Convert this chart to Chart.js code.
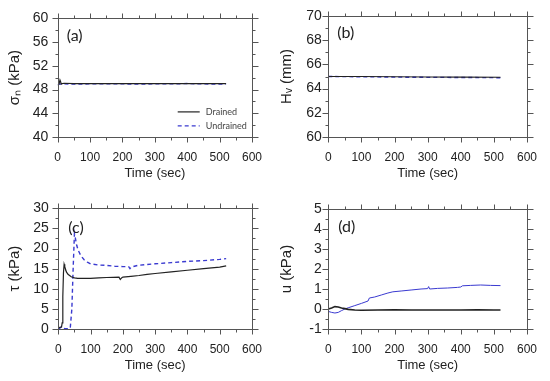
<!DOCTYPE html>
<html>
<head>
<meta charset="utf-8">
<script src="https://cdn.jsdelivr.net/npm/chart.js@4"></script>
<style>
  body { margin: 0; background: #fff; }
  #wrap { position: relative; width: 550px; height: 381px; overflow: hidden; }
  canvas { position: absolute; }
</style>
</head>
<body>
<div id="wrap">
  <canvas id="pa" width="275" height="190" style="left:0;top:0"></canvas>
  <canvas id="pb" width="275" height="190" style="left:275px;top:0"></canvas>
  <canvas id="pc" width="275" height="191" style="left:0;top:190px"></canvas>
  <canvas id="pd" width="275" height="191" style="left:275px;top:190px"></canvas>
</div>
<script>
// (a) normal stress
const aDrainedT = [0, 4, 7, 9, 11, 14, 20, 50, 100, 150, 200, 250, 300, 350, 400, 450, 500, 520];
const aDrainedV = [48.7, 48.9, 49.6, 49.3, 48.9, 49.0, 49.05, 49.0, 49.0, 49.0, 49.0, 49.0, 49.0, 49.0, 49.0, 49.0, 49.0, 49.0];
const aUndrainedT = [0, 5, 10, 20, 50, 100, 150, 200, 250, 300, 350, 400, 450, 500, 520];
const aUndrainedV = [48.8, 48.95, 48.9, 48.95, 48.9, 48.95, 48.95, 48.95, 48.9, 48.95, 48.95, 49.0, 48.95, 48.9, 48.9];

// (b) specimen height
const bDrainedT = [0, 100, 200, 300, 400, 520];
const bDrainedV = [65.0, 65.0, 64.98, 64.96, 64.95, 64.94];
const bUndrainedT = [0, 100, 200, 300, 400, 520];
const bUndrainedV = [65.0, 64.98, 64.95, 64.93, 64.92, 64.9];

// (c) shear stress
const cDrainedT = [0, 5, 10, 12, 14, 16, 18, 20, 25, 30, 40, 50, 60, 80, 100, 125, 150, 188, 192, 196, 200, 225, 250, 275, 300, 350, 400, 450, 500, 520];
const cDrainedV = [0.3, 0.4, 0.5, 1.5, 8, 14, 16.1, 15.5, 14.2, 13.6, 13.0, 12.7, 12.6, 12.6, 12.6, 12.7, 12.8, 12.9, 12.3, 12.7, 12.9, 13.1, 13.3, 13.6, 13.8, 14.2, 14.6, 15.0, 15.4, 15.7];
const cUndrainedT = [0, 5, 10, 15, 20, 30, 37, 42, 46, 50, 53, 57, 62, 70, 80, 90, 100, 125, 150, 175, 200, 218, 222, 226, 245, 270, 300, 350, 400, 450, 500, 520];
const cUndrainedV = [0.1, 0.2, 0.6, 0.2, 0.1, 0.1, 0.2, 5, 15, 23.7, 22.5, 20.8, 19.5, 18.2, 17.2, 16.6, 16.2, 15.9, 15.8, 15.6, 15.5, 15.5, 15.0, 15.4, 15.8, 16.0, 16.2, 16.5, 16.8, 17.0, 17.3, 17.5];

// (d) pore pressure
const dDrainedT = [0, 10, 20, 30, 40, 50, 60, 80, 100, 150, 200, 250, 300, 350, 400, 450, 500, 520];
const dDrainedV = [0.0, 0.05, 0.12, 0.1, 0.05, 0.02, -0.02, -0.05, -0.06, -0.05, -0.04, -0.05, -0.05, -0.05, -0.05, -0.04, -0.05, -0.05];
const dUndrainedT = [0, 10, 20, 30, 40, 50, 60, 80, 100, 120, 124, 140, 160, 180, 195, 220, 250, 280, 300, 303, 306, 330, 360, 390, 400, 405, 430, 460, 490, 520];
const dUndrainedV = [-0.12, -0.17, -0.2, -0.17, -0.08, 0.0, 0.06, 0.17, 0.28, 0.4, 0.55, 0.6, 0.7, 0.8, 0.86, 0.9, 0.95, 1.0, 1.02, 1.12, 1.0, 1.03, 1.05, 1.08, 1.1, 1.16, 1.18, 1.2, 1.18, 1.17];

const BLUE = '#3a3ad0';
const INK = '#222';
const AXIS = '#555';

function pts(t, v) {
  return t.map((x, i) => ({ x: x, y: v[i] }));
}

// box frame with outward major/minor ticks on all four sides, panel tag and legend
const framePlugin = {
  id: 'frame',
  afterDraw(chart, args, o) {
    const { ctx, chartArea: ca, scales: { x, y } } = chart;
    ctx.save();
    ctx.strokeStyle = AXIS;
    ctx.lineWidth = 1;
    const L = Math.round(ca.left) + 0.5, R = Math.round(ca.right) + 0.5;
    const T = Math.round(ca.top) + 0.5, B = Math.round(ca.bottom) + 0.5;
    ctx.strokeRect(L, T, R - L, B - T);
    ctx.beginPath();
    for (let v = x.min; v <= x.max + 1e-9; v += o.xMinor) {
      const px = Math.round(x.getPixelForValue(v)) + 0.5;
      const len = Math.abs(v / o.xMajor - Math.round(v / o.xMajor)) < 1e-6 ? 5 : 3;
      ctx.moveTo(px, B); ctx.lineTo(px, B + len);
      ctx.moveTo(px, T); ctx.lineTo(px, T - len);
    }
    for (let v = y.min; v <= y.max + 1e-9; v += o.yMinor) {
      const py = Math.round(y.getPixelForValue(v)) + 0.5;
      const len = Math.abs((v - y.min) / o.yMajor - Math.round((v - y.min) / o.yMajor)) < 1e-6 ? 6 : 3;
      ctx.moveTo(L, py); ctx.lineTo(L - len, py);
      ctx.moveTo(R, py); ctx.lineTo(R + len, py);
    }
    ctx.stroke();

    ctx.fillStyle = '#222';
    ctx.font = '16px Lato';
    ctx.textBaseline = 'middle';
    ctx.fillText(o.tag, ca.left + o.tagX, ca.top + o.tagY);

    if (o.legend) {
      ctx.font = '9px Lato';
      ctx.fillStyle = '#444';
      chart.data.datasets.forEach((ds, i) => {
        const ly = ca.top + 94 + i * 14;
        const lx = ca.left + 120;
        ctx.beginPath();
        ctx.strokeStyle = ds.borderColor;
        ctx.lineWidth = ds.borderWidth;
        ctx.setLineDash(ds.borderDash || []);
        ctx.moveTo(lx, ly); ctx.lineTo(lx + 22, ly);
        ctx.stroke();
        ctx.setLineDash([]);
        ctx.fillText(ds.label, lx + 28, ly);
      });
    }
    ctx.restore();
  }
};

function makeChart(id, cfg) {
  const xTickFont = { family: 'Liberation Sans', size: 12 };
  const yTickFont = { family: 'Liberation Sans', size: 14 };
  const xTitleFont = { family: 'Liberation Sans', size: 13 };
  const yTitleFont = { family: 'Liberation Sans', size: 15 };
  new Chart(document.getElementById(id), {
    type: 'line',
    data: {
      datasets: [
        {
          label: 'Drained',
          data: pts(cfg.dT, cfg.dV),
          borderColor: '#222',
          borderWidth: cfg.blackWidth || 1.2,
          pointRadius: 0,
          tension: 0,
        },
        {
          label: 'Undrained',
          data: pts(cfg.uT, cfg.uV),
          borderColor: BLUE,
          borderWidth: cfg.blueWidth || 1.4,
          borderDash: cfg.blueDash,
          pointRadius: 0,
          tension: 0,
        },
      ],
    },
    options: {
      responsive: false,
      animation: false,
      layout: { padding: { top: cfg.padTop, right: cfg.padRight, left: 0, bottom: 0 } },
      plugins: {
        legend: { display: false },
        tooltip: { enabled: false },
        frame: cfg.frame,
      },
      scales: {
        x: {
          type: 'linear',
          min: 0,
          max: 600,
          ticks: { stepSize: 100, font: xTickFont, color: INK, padding: 13, maxRotation: 0 },
          grid: { display: false, drawTicks: false },
          border: { display: false },
          title: { display: true, text: 'Time (sec)', font: xTitleFont, color: INK, padding: { top: 0, bottom: cfg.xTitlePad } },
          afterFit(s) { s.height = cfg.xHeight; },
        },
        y: {
          type: 'linear',
          min: cfg.yMin,
          max: cfg.yMax,
          ticks: { stepSize: cfg.yStep, font: yTickFont, color: INK, padding: cfg.yTickPad },
          grid: { display: false, drawTicks: false },
          border: { display: false },
          title: { display: true, text: cfg.yTitle, font: yTitleFont, color: INK, padding: { top: cfg.yTitlePad, bottom: 0 } },
          afterFit(s) { s.width = cfg.yWidth; },
        },
      },
    },
    plugins: [framePlugin],
  });
}

makeChart('pa', {
  dT: aDrainedT, dV: aDrainedV, uT: aUndrainedT, uV: aUndrainedV,
  blueDash: [4, 3],
  yMin: 40, yMax: 60, yStep: 4, yTitle: 'σₙ (kPa)',
  padTop: 15, padRight: 17.7, xHeight: 52.7, yWidth: 57.7,
  xTitlePad: 9, yTickPad: 9.5, yTitlePad: 6,
  frame: { xMinor: 50, xMajor: 100, yMinor: 2, yMajor: 4, tag: '(a)', tagX: 9, tagY: 18, legend: true },
});

makeChart('pb', {
  dT: bDrainedT, dV: bDrainedV, uT: bUndrainedT, uV: bUndrainedV,
  blueDash: [4, 3],
  yMin: 60, yMax: 70, yStep: 2, yTitle: 'Hᵥ (mm)',
  padTop: 16, padRight: 19, xHeight: 53, yWidth: 53.3,
  xTitlePad: 9, yTickPad: 6.5, yTitlePad: 3,
  frame: { xMinor: 50, xMajor: 100, yMinor: 1, yMajor: 2, tag: '(b)', tagX: 9, tagY: 17, legend: false },
});

makeChart('pc', {
  dT: cDrainedT, dV: cDrainedV, uT: cUndrainedT, uV: cUndrainedV,
  blueDash: [4, 3],
  yMin: 0, yMax: 30, yStep: 5, yTitle: 'τ (kPa)',
  padTop: 18.3, padRight: 17, xHeight: 52, yWidth: 58.3,
  xTitlePad: 8, yTickPad: 9.5, yTitlePad: 6,
  frame: { xMinor: 50, xMajor: 100, yMinor: 2.5, yMajor: 5, tag: '(c)', tagX: 10, tagY: 20, legend: false },
});

makeChart('pd', {
  dT: dDrainedT, dV: dDrainedV, uT: dUndrainedT, uV: dUndrainedV,
  blueDash: [], blueWidth: 1, blackWidth: 1.6,
  yMin: -1, yMax: 5, yStep: 1, yTitle: 'u (kPa)',
  padTop: 19, padRight: 19, xHeight: 52, yWidth: 53.3,
  xTitlePad: 8, yTickPad: 6.5, yTitlePad: 3,
  frame: { xMinor: 50, xMajor: 100, yMinor: 0.5, yMajor: 1, tag: '(d)', tagX: 10, tagY: 18, legend: false },
});
</script>
</body>
</html>
